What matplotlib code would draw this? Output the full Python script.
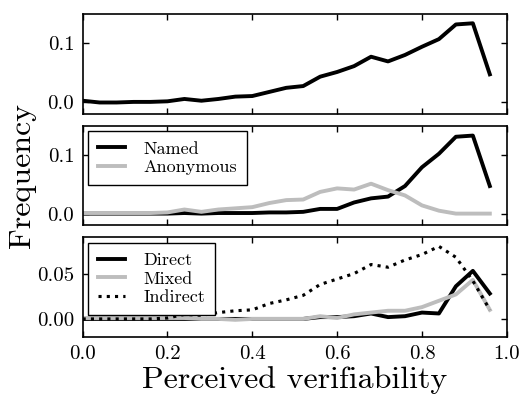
import numpy as np
import matplotlib
matplotlib.use("Agg")
import matplotlib.pyplot as plt

x = [0.00, 0.04, 0.08, 0.12, 0.16, 0.20, 0.24, 0.28, 0.32, 0.36, 0.40, 0.44,
     0.48, 0.52, 0.56, 0.60, 0.64, 0.68, 0.72, 0.76, 0.80, 0.84, 0.88, 0.92, 0.96]

all_freq = [0.002, -0.001, -0.001, 0.000, 0.000, 0.001, 0.005, 0.002, 0.005, 0.009,
            0.010, 0.017, 0.024, 0.027, 0.043, 0.051, 0.061, 0.077, 0.069, 0.080,
            0.094, 0.107, 0.132, 0.134, 0.047]

named = [0.000, 0.000, 0.000, 0.000, 0.000, 0.000, 0.001, 0.000, 0.001, 0.001,
         0.001, 0.002, 0.002, 0.003, 0.008, 0.008, 0.019, 0.026, 0.029, 0.047,
         0.079, 0.102, 0.131, 0.133, 0.047]
anonymous = [0.001, 0.001, 0.001, 0.001, 0.001, 0.002, 0.007, 0.003, 0.007, 0.009,
             0.011, 0.018, 0.023, 0.024, 0.037, 0.043, 0.041, 0.051, 0.040, 0.031,
             0.014, 0.005, 0.000, 0.000, 0.000]

direct = [0.000, 0.000, 0.000, 0.000, 0.000, 0.000, 0.000, 0.000, 0.000, 0.000,
          0.000, 0.000, 0.000, 0.000, 0.002, 0.002, 0.003, 0.006, 0.002, 0.003,
          0.007, 0.006, 0.036, 0.053, 0.028]
mixed = [0.001, 0.001, 0.001, 0.001, 0.001, 0.001, 0.001, 0.000, 0.000, -0.001,
         0.000, 0.000, 0.000, 0.000, 0.003, 0.001, 0.005, 0.007, 0.009, 0.009,
         0.013, 0.020, 0.027, 0.043, 0.010]
indirect = [0.000, 0.000, 0.000, 0.000, 0.000, 0.001, 0.005, 0.004, 0.007, 0.009,
            0.010, 0.017, 0.021, 0.026, 0.038, 0.044, 0.050, 0.060, 0.057, 0.065,
            0.071, 0.080, 0.068, 0.042, 0.010]

xticks = [0.0, 0.2, 0.4, 0.6, 0.8, 1.0]
xticklabels = ['0.0', '0.2', '0.4', '0.6', '0.8', '1.0']

plt.rcParams['font.family'] = 'serif'
plt.rcParams['font.serif'] = ['cmr10']
plt.rcParams['mathtext.fontset'] = 'cm'
plt.rcParams['axes.formatter.use_mathtext'] = True

gray = '#bdbdbd'
lw = 2.8

fig, axes = plt.subplots(3, 1, figsize=(5.23, 3.97), dpi=100, sharex=True)
fig.subplots_adjust(left=0.158, right=0.969, top=0.965, bottom=0.151, hspace=0.12)
ax1, ax2, ax3 = axes

ax1.plot(x, all_freq, color='black', lw=lw)
ax2.plot(x, named, color='black', lw=lw, label='Named')
ax2.plot(x, anonymous, color=gray, lw=lw, label='Anonymous')
ax3.plot(x, direct, color='black', lw=lw, label='Direct')
ax3.plot(x, mixed, color=gray, lw=lw, label='Mixed')
ax3.plot(x, indirect, color='black', lw=lw * 0.8, ls=':', label='Indirect')

for ax in axes:
    ax.set_xlim(0, 1)
    ax.set_xticks(xticks)
    ax.tick_params(direction='in', top=True, right=True, length=4, width=1,
                   labelsize=15, pad=6)
    for s in ax.spines.values():
        s.set_linewidth(1.2)

ax1.set_ylim(-0.02, 0.15)
ax1.set_yticks([0.0, 0.1])
ax1.set_yticklabels(['0.0', '0.1'])
ax2.set_ylim(-0.02, 0.15)
ax2.set_yticks([0.0, 0.1])
ax2.set_yticklabels(['0.0', '0.1'])
ax3.set_ylim(-0.02, 0.09)
ax3.set_yticks([0.0, 0.05])
ax3.set_yticklabels(['0.00', '0.05'])
ax3.set_xticklabels(xticklabels)

for ax in (ax2, ax3):
    leg = ax.legend(loc='upper left', fontsize=13, fancybox=False, edgecolor='black',
                    framealpha=1, handlelength=1.5, handletextpad=1.0,
                    borderaxespad=0.3, labelspacing=0.15, borderpad=0.55)
    leg.get_frame().set_linewidth(1.0)

ax2.set_ylabel('Frequency', fontsize=23, labelpad=8)
ax3.set_xlabel('Perceived verifiability', fontsize=23, labelpad=2)

fig.savefig('out.png', dpi=100)
